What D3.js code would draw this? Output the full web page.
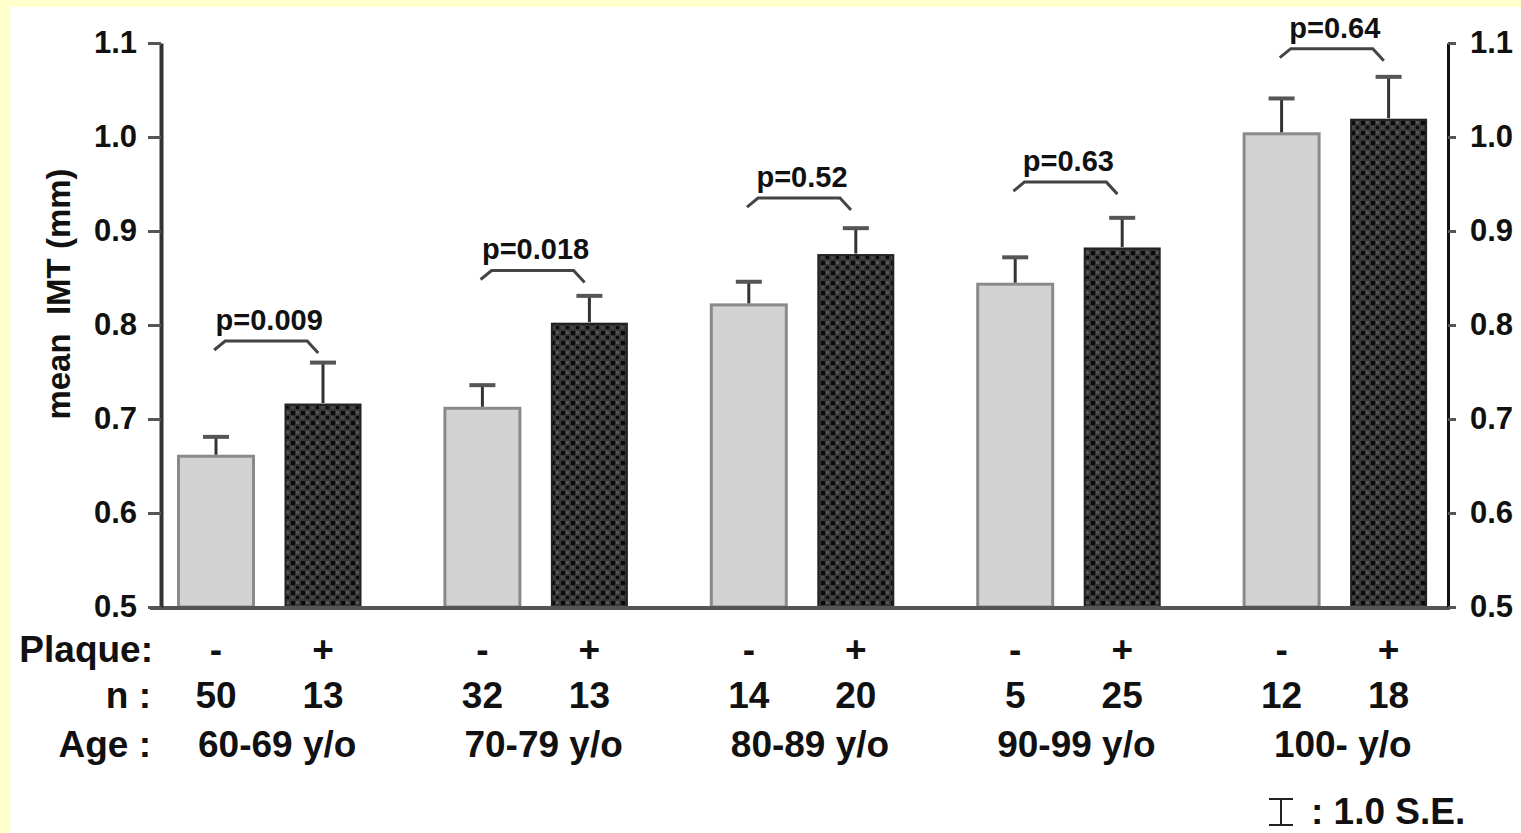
<!DOCTYPE html>
<html>
<head>
<meta charset="utf-8">
<script src="https://cdn.jsdelivr.net/npm/d3@7"></script>
<style>
  html, body { margin: 0; padding: 0; background: #ffffcc; }
  svg { display: block; }
  text { font-family: "Liberation Sans", Arial, Helvetica, sans-serif; fill: #111; }
</style>
</head>
<body>
<div id="chart"></div>
<script>
// Data
const ageGroups = ["60-69 y/o", "70-79 y/o", "80-89 y/o", "90-99 y/o", "100- y/o"];
const plaqueKeys = ["-", "+"];
const meanNoPlaque = [0.662, 0.713, 0.823, 0.845, 1.005];
const meanPlaque   = [0.717, 0.803, 0.876, 0.883, 1.020];
const seNoPlaque   = [0.019, 0.023, 0.023, 0.027, 0.036];
const sePlaque     = [0.043, 0.028, 0.027, 0.031, 0.044];
const nNoPlaque    = [50, 32, 14, 5, 12];
const nPlaque      = [13, 13, 20, 25, 18];
const pValues      = ["p=0.009", "p=0.018", "p=0.52", "p=0.63", "p=0.64"];
const bracketLevel = [0.783, 0.858, 0.935, 0.952, 1.094];
const yTicks       = [0.5, 0.6, 0.7, 0.8, 0.9, 1.0, 1.1];

const W = 1521, H = 833;

const svg = d3.select("#chart").append("svg")
    .attr("width", W)
    .attr("height", H);

// white panel over the yellow page
svg.append("rect")
    .attr("x", 10).attr("y", 7)
    .attr("width", W - 10).attr("height", H - 7)
    .attr("fill", "#ffffff");

// checkered fill for the plaque(+) bars
const defs = svg.append("defs");
const pat = defs.append("pattern")
    .attr("id", "checks")
    .attr("patternUnits", "userSpaceOnUse")
    .attr("width", 10).attr("height", 10);
pat.append("rect").attr("width", 10).attr("height", 10).attr("fill", "#363636");
pat.append("rect").attr("x", 1).attr("y", 1).attr("width", 4).attr("height", 4).attr("fill", "#0a0a0a");
pat.append("rect").attr("x", 6).attr("y", 6).attr("width", 3).attr("height", 3).attr("fill", "#0a0a0a");
pat.append("rect").attr("x", 6).attr("y", 1).attr("width", 3).attr("height", 3).attr("fill", "#555555");
pat.append("rect").attr("x", 1).attr("y", 6).attr("width", 3).attr("height", 3).attr("fill", "#4a4a4a");

// scales
const y = d3.scaleLinear().domain([0.5, 1.1]).range([607, 43]);
const x0 = d3.scaleBand().domain(ageGroups).range([136, 1468]).padding(0);
const x1 = d3.scaleBand().domain(plaqueKeys).range([41, 226]).paddingInner(0.271).paddingOuter(0);

const rows = ageGroups.map((g, i) => ({
    group: g,
    p: pValues[i],
    level: bracketLevel[i],
    bars: [
        { key: "-", mean: meanNoPlaque[i], se: seNoPlaque[i], n: nNoPlaque[i] },
        { key: "+", mean: meanPlaque[i], se: sePlaque[i], n: nPlaque[i] }
    ]
}));

const barX = (g, k) => x0(g) + x1(k);
const barC = (g, k) => x0(g) + x1(k) + x1.bandwidth() / 2;

// bars
const groups = svg.selectAll(".grp")
    .data(rows)
    .enter().append("g")
    .attr("class", "grp");

groups.selectAll(".bar")
    .data(d => d.bars.map(b => ({ ...b, group: d.group })))
    .enter().append("rect")
    .attr("class", "bar")
    .attr("x", d => barX(d.group, d.key) + 1.5)
    .attr("y", d => y(d.mean) + 1.5)
    .attr("width", x1.bandwidth() - 3)
    .attr("height", d => y(0.5) - y(d.mean) - 1.5)
    .attr("fill", d => d.key === "-" ? "#d3d3d3" : "url(#checks)")
    .attr("stroke", d => d.key === "-" ? "#8a8a8a" : "#222")
    .attr("stroke-width", d => d.key === "-" ? 3 : 2);

// error bars (upper only)
groups.selectAll(".err")
    .data(d => d.bars.map(b => ({ ...b, group: d.group })))
    .enter().append("line")
    .attr("x1", d => barC(d.group, d.key))
    .attr("x2", d => barC(d.group, d.key))
    .attr("y1", d => y(d.mean))
    .attr("y2", d => y(d.mean + d.se))
    .attr("stroke", "#333")
    .attr("stroke-width", 3);

groups.selectAll(".cap")
    .data(d => d.bars.map(b => ({ ...b, group: d.group })))
    .enter().append("line")
    .attr("x1", d => barC(d.group, d.key) - 13)
    .attr("x2", d => barC(d.group, d.key) + 13)
    .attr("y1", d => y(d.mean + d.se))
    .attr("y2", d => y(d.mean + d.se))
    .attr("stroke", "#555")
    .attr("stroke-width", 4);

// p-value brackets
groups.append("path")
    .attr("d", d => {
        const c = x0(d.group) + x0.bandwidth() / 2 - 2;
        const h = y(d.level);
        return `M${c - 53},${h + 9} L${c - 42},${h} L${c + 40},${h} L${c + 51},${h + 12}`;
    })
    .attr("fill", "none")
    .attr("stroke", "#444")
    .attr("stroke-width", 3);

groups.append("text")
    .attr("x", d => x0(d.group) + x0.bandwidth() / 2)
    .attr("y", d => y(d.level) - 11)
    .attr("text-anchor", "middle")
    .style("font-size", "29px")
    .style("font-weight", "bold")
    .text(d => d.p);

// baseline
svg.append("line")
    .attr("x1", 150).attr("x2", 1450)
    .attr("y1", y(0.5) + 1).attr("y2", y(0.5) + 1)
    .attr("stroke", "#555")
    .attr("stroke-width", 4);

// left axis
const yl = svg.append("g")
    .attr("transform", "translate(161,0)")
    .call(d3.axisLeft(y).tickValues(yTicks).tickFormat(d3.format(".1f")).tickSize(13).tickSizeOuter(0).tickPadding(11));
yl.select(".domain").attr("stroke", "#333").attr("stroke-width", 4);
yl.selectAll(".tick line").attr("stroke", "#555").attr("stroke-width", 3);
yl.selectAll(".tick text").style("font-size", "31px").style("font-weight", "bold").attr("fill", "#111");

// right axis
const yr = svg.append("g")
    .attr("transform", "translate(1448,0)")
    .call(d3.axisRight(y).tickValues(yTicks).tickFormat(d3.format(".1f")).tickSize(8).tickSizeOuter(0).tickPadding(14));
yr.select(".domain").attr("stroke", "#111").attr("stroke-width", 3);
yr.selectAll(".tick line").attr("stroke", "#555").attr("stroke-width", 3);
yr.selectAll(".tick text").style("font-size", "31px").style("font-weight", "bold").attr("fill", "#111");

// y label
svg.append("text")
    .attr("transform", "translate(70,294) rotate(-90)")
    .attr("text-anchor", "middle")
    .style("font-size", "33px")
    .style("font-weight", "bold")
    .style("white-space", "pre")
    .text("mean  IMT (mm)");

// row labels under the axis
const rowStyle = sel => sel.style("font-size", "37px").style("font-weight", "bold");

svg.append("text").attr("x", 153).attr("y", 662).attr("text-anchor", "end").call(rowStyle).text("Plaque:");
svg.append("text").attr("x", 151).attr("y", 708).attr("text-anchor", "end").call(rowStyle).text("n :");
svg.append("text").attr("x", 151).attr("y", 757).attr("text-anchor", "end").call(rowStyle).text("Age :");

groups.selectAll(".pl")
    .data(d => d.bars.map(b => ({ ...b, group: d.group })))
    .enter().append("text")
    .attr("x", d => barC(d.group, d.key))
    .attr("y", 662)
    .attr("text-anchor", "middle")
    .call(rowStyle)
    .text(d => d.key);

groups.selectAll(".nn")
    .data(d => d.bars.map(b => ({ ...b, group: d.group })))
    .enter().append("text")
    .attr("x", d => barC(d.group, d.key))
    .attr("y", 708)
    .attr("text-anchor", "middle")
    .call(rowStyle)
    .text(d => d.n);

groups.append("text")
    .attr("x", d => x0(d.group) + x0.bandwidth() / 2 + 8)
    .attr("y", 757)
    .attr("text-anchor", "middle")
    .call(rowStyle)
    .text(d => d.group);

// S.E. legend
const lg = svg.append("g").attr("transform", "translate(1281,0)");
lg.append("line").attr("x1", 0).attr("x2", 0).attr("y1", 799).attr("y2", 825).attr("stroke", "#222").attr("stroke-width", 2);
lg.append("line").attr("x1", -12).attr("x2", 12).attr("y1", 799).attr("y2", 799).attr("stroke", "#222").attr("stroke-width", 2);
lg.append("line").attr("x1", -12).attr("x2", 12).attr("y1", 825).attr("y2", 825).attr("stroke", "#222").attr("stroke-width", 2);
lg.append("text").attr("x", 30).attr("y", 824).call(rowStyle).text(": 1.0 S.E.");
</script>
</body>
</html>
